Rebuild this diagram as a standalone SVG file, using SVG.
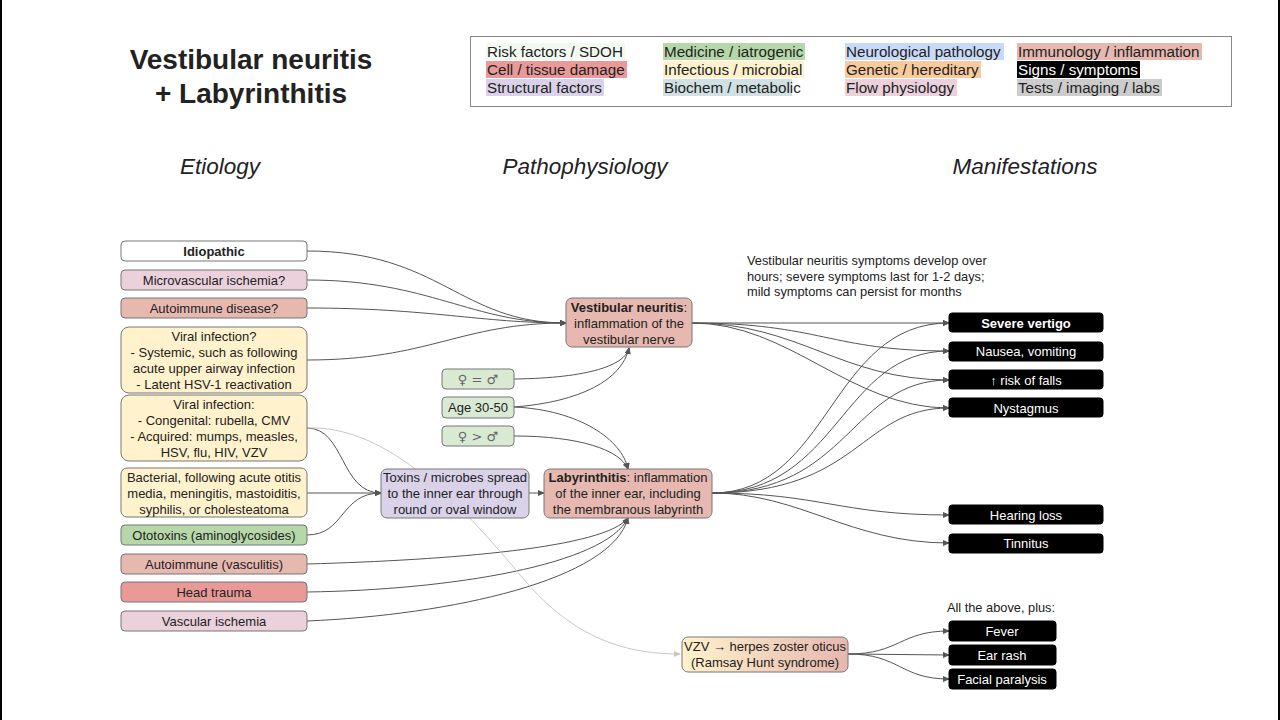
<svg xmlns="http://www.w3.org/2000/svg" width="1280" height="720" viewBox="0 0 1280 720">
<defs>
<marker id="arr" markerUnits="userSpaceOnUse" markerWidth="7" markerHeight="6" refX="6" refY="3" orient="auto"><path d="M0,0 L7,3 L0,6 z" fill="#555"/></marker>
<marker id="arrg" markerUnits="userSpaceOnUse" markerWidth="7" markerHeight="6" refX="6" refY="3" orient="auto"><path d="M0,0 L7,3 L0,6 z" fill="#c8c8c8"/></marker>
<linearGradient id="vzvg" x1="0" y1="0" x2="1" y2="0"><stop offset="0" stop-color="#fff2cc"/><stop offset="1" stop-color="#e6b8af"/></linearGradient>
</defs>
<style>
text{font-family:"Liberation Sans",Arial,sans-serif;fill:#222}
.t{font-size:13px;text-anchor:middle;dominant-baseline:central}
.lg{font-size:15.2px;dominant-baseline:central}
.h{font-size:22.5px;font-style:italic;text-anchor:middle}
.n{stroke:#777;stroke-width:1}
.s{fill:#000;stroke:#000}
.st{font-size:13px;text-anchor:middle;dominant-baseline:central;fill:#fff}
.c{fill:none;stroke:#555;stroke-width:1;marker-end:url(#arr)}
.sym{font-family:"DejaVu Sans",sans-serif;fill:#666}
.nt{font-size:12.8px}
</style>
<rect x="0" y="0" width="1280" height="720" fill="#fff"/>
<rect x="0" y="0" width="2" height="720" fill="#000"/>
<rect x="1278" y="0" width="2" height="720" fill="#000"/>

<g id="title">
<text x="251" y="69" font-size="28" font-weight="bold" text-anchor="middle" fill="#000">Vestibular neuritis</text>
<text x="251" y="103" font-size="28" font-weight="bold" text-anchor="middle" fill="#000">+ Labyrinthitis</text>
</g>

<g id="legend">
<rect x="470.5" y="36.5" width="761" height="70" fill="#fff" stroke="#888"/>
<rect x="486" y="43" width="139" height="17" fill="#f3f8f0"/>
<rect x="486" y="61" width="141" height="17" fill="#ea9999"/>
<rect x="486" y="79" width="118" height="17" fill="#d9d2e9"/>
<rect x="663" y="43" width="142" height="17" fill="#b6d7a8"/>
<rect x="663" y="61" width="141" height="17" fill="#fff2cc"/>
<rect x="663" y="79" width="129" height="17" fill="#d0e0e3"/>
<rect x="845" y="43" width="159" height="17" fill="#c9daf8"/>
<rect x="845" y="61" width="136" height="17" fill="#f9cb9c"/>
<rect x="845" y="79" width="112" height="17" fill="#ead1dc"/>
<rect x="1017" y="43" width="185" height="17" fill="#e6b8af"/>
<rect x="1017" y="61" width="123" height="17" fill="#000"/>
<rect x="1017" y="79" width="145" height="17" fill="#cccccc"/>
<text class="lg" x="487" y="51">Risk factors / SDOH</text>
<text class="lg" x="487" y="69">Cell / tissue damage</text>
<text class="lg" x="487" y="87">Structural factors</text>
<text class="lg" x="664" y="51">Medicine / iatrogenic</text>
<text class="lg" x="664" y="69">Infectious / microbial</text>
<text class="lg" x="664" y="87">Biochem / metabolic</text>
<text class="lg" x="846" y="51">Neurological pathology</text>
<text class="lg" x="846" y="69">Genetic / hereditary</text>
<text class="lg" x="846" y="87">Flow physiology</text>
<text class="lg" x="1018" y="51">Immunology / inflammation</text>
<text class="lg" x="1018" y="69" style="fill:#fff">Signs / symptoms</text>
<text class="lg" x="1018" y="87">Tests / imaging / labs</text>
</g>

<g id="headings">
<text class="h" x="220" y="174">Etiology</text>
<text class="h" x="585" y="174">Pathophysiology</text>
<text class="h" x="1025" y="174">Manifestations</text>
</g>

<g id="connectors">
<path class="c" d="M307,251 C440,251 460,323 566,323"/>
<path class="c" d="M307,280 C430,280 470,323 566,323"/>
<path class="c" d="M307,308 C430,308 480,323 566,323"/>
<path class="c" d="M307,360 C430,360 460,323 566,323"/>
<path class="c" d="M514,379 C590,378 625,365 629,348"/>
<path class="c" d="M514,407 C580,402 622,380 629,348"/>
<path class="c" d="M514,407 C580,410 622,440 628,469"/>
<path class="c" d="M514,436 C580,436 620,450 628,469"/>
<path class="c" d="M307,428 C345,428 340,493 381,493"/>
<path class="c" d="M307,493 L381,493"/>
<path class="c" d="M307,535 C345,535 340,493 381,493"/>
<path class="c" d="M529,493 L544,493"/>
<path class="c" d="M307,564 C450,560 605,548 628,518"/>
<path class="c" d="M307,592 C450,590 605,565 628,518"/>
<path class="c" d="M307,621 C450,615 612,580 628,518"/>
<path d="M307,428 C380,425 450,490 520,575 C570,635 620,654 680,654" fill="none" stroke="#c8c8c8" stroke-width="1" marker-end="url(#arrg)"/>
<path class="c" d="M692,323 L949,323"/>
<path class="c" d="M692,323 C820,323 830,351 949,351"/>
<path class="c" d="M692,323 C800,323 840,380 949,380"/>
<path class="c" d="M692,323 C790,323 850,408 949,408"/>
<path class="c" d="M712,493 C830,493 830,323 949,323"/>
<path class="c" d="M712,493 C840,493 840,351 949,351"/>
<path class="c" d="M712,493 C850,493 850,380 949,380"/>
<path class="c" d="M712,493 C860,493 860,408 949,408"/>
<path class="c" d="M712,493 C820,493 840,515 949,515"/>
<path class="c" d="M712,493 C800,493 850,543 949,543"/>
<path class="c" d="M848,654 C900,654 900,631 949,631"/>
<path class="c" d="M848,654 L949,655"/>
<path class="c" d="M848,654 C900,654 900,679 949,679"/>
</g>

<g id="idiopathic"><rect class="n" x="121" y="241" width="186" height="20" rx="4" fill="#fff"/><text class="t" x="214" y="251" font-weight="bold">Idiopathic</text></g>
<g id="microvascular"><rect class="n" x="121" y="270" width="186" height="20" rx="4" fill="#ead1dc"/><text class="t" x="214" y="280">Microvascular ischemia?</text></g>
<g id="autoimmune-disease"><rect class="n" x="121" y="298" width="186" height="20" rx="4" fill="#e6b8af"/><text class="t" x="214" y="308">Autoimmune disease?</text></g>
<g id="viral-q"><rect class="n" x="121" y="327" width="186" height="66" rx="8" fill="#fff2cc"/>
<text class="t" x="214" y="336">Viral infection?</text><text class="t" x="214" y="352">- Systemic, such as following</text><text class="t" x="214" y="368">acute upper airway infection</text><text class="t" x="214" y="384">- Latent HSV-1 reactivation</text></g>
<g id="viral"><rect class="n" x="121" y="395" width="186" height="66" rx="8" fill="#fff2cc"/>
<text class="t" x="214" y="404">Viral infection:</text><text class="t" x="214" y="420">- Congenital: rubella, CMV</text><text class="t" x="214" y="436">- Acquired: mumps, measles,</text><text class="t" x="214" y="452">HSV, flu, HIV, VZV</text></g>
<g id="bacterial"><rect class="n" x="121" y="468" width="186" height="49" rx="6" fill="#fff2cc"/>
<text class="t" x="214" y="477">Bacterial, following acute otitis</text><text class="t" x="214" y="493">media, meningitis, mastoiditis,</text><text class="t" x="214" y="509">syphilis, or cholesteatoma</text></g>
<g id="ototoxins"><rect class="n" x="121" y="525" width="186" height="20" rx="4" fill="#b6d7a8"/><text class="t" x="214" y="535">Ototoxins (aminoglycosides)</text></g>
<g id="autoimmune-vasc"><rect class="n" x="121" y="554" width="186" height="20" rx="4" fill="#e6b8af"/><text class="t" x="214" y="564">Autoimmune (vasculitis)</text></g>
<g id="head-trauma"><rect class="n" x="121" y="582" width="186" height="20" rx="4" fill="#ea9999"/><text class="t" x="214" y="592">Head trauma</text></g>
<g id="vascular-ischemia"><rect class="n" x="121" y="611" width="186" height="20" rx="4" fill="#ead1dc"/><text class="t" x="214" y="621">Vascular ischemia</text></g>

<g id="sex-eq"><rect class="n" x="442" y="369" width="72" height="20" rx="4" fill="#d9ead3"/><text class="t sym" x="478" y="379">♀ = ♂</text></g>
<g id="age"><rect class="n" x="442" y="397" width="72" height="21" rx="4" fill="#d9ead3"/><text class="t" x="478" y="407.5">Age 30-50</text></g>
<g id="sex-gt"><rect class="n" x="442" y="426" width="72" height="20" rx="4" fill="#d9ead3"/><text class="t sym" x="478" y="436">♀ &gt; ♂</text></g>

<g id="vestibular-neuritis"><rect class="n" x="566" y="298" width="126" height="49" rx="6" fill="#e6b8af"/>
<text class="t" x="629" y="307"><tspan font-weight="bold">Vestibular neuritis</tspan>:</text><text class="t" x="629" y="323">inflammation of the</text><text class="t" x="629" y="339">vestibular nerve</text></g>
<g id="toxins"><rect class="n" x="381" y="469" width="148" height="49" rx="6" fill="#d9d2e9"/>
<text class="t" x="455" y="477">Toxins / microbes spread</text><text class="t" x="455" y="493">to the inner ear through</text><text class="t" x="455" y="509">round or oval window</text></g>
<g id="labyrinthitis"><rect class="n" x="544" y="469" width="168" height="49" rx="6" fill="#e6b8af"/>
<text class="t" x="628" y="477"><tspan font-weight="bold">Labyrinthitis</tspan>: inflammation</text><text class="t" x="628" y="493">of the inner ear, including</text><text class="t" x="628" y="509">the membranous labyrinth</text></g>
<g id="vzv"><rect class="n" x="682" y="637" width="166" height="35" rx="6" fill="url(#vzvg)"/>
<text class="t" x="765" y="646">VZV → herpes zoster oticus</text><text class="t" x="765" y="662">(Ramsay Hunt syndrome)</text></g>

<g id="note">
<text class="nt" x="747" y="265">Vestibular neuritis symptoms develop over</text>
<text class="nt" x="747" y="281">hours; severe symptoms last for 1-2 days;</text>
<text class="nt" x="747" y="296">mild symptoms can persist for months</text>
</g>
<g id="severe-vertigo"><rect class="s" x="949" y="313" width="154" height="19" rx="3"/><text class="st" x="1026" y="323" font-weight="bold">Severe vertigo</text></g>
<g id="nausea"><rect class="s" x="949" y="342" width="154" height="19" rx="3"/><text class="st" x="1026" y="351">Nausea, vomiting</text></g>
<g id="falls"><rect class="s" x="949" y="370" width="154" height="19" rx="3"/><text class="st" x="1026" y="380">↑ risk of falls</text></g>
<g id="nystagmus"><rect class="s" x="949" y="398" width="154" height="19" rx="3"/><text class="st" x="1026" y="408">Nystagmus</text></g>
<g id="hearing-loss"><rect class="s" x="949" y="505" width="154" height="19" rx="3"/><text class="st" x="1026" y="515">Hearing loss</text></g>
<g id="tinnitus"><rect class="s" x="949" y="534" width="154" height="19" rx="3"/><text class="st" x="1026" y="543">Tinnitus</text></g>
<g id="plus-note"><text class="nt" x="1001" y="612" text-anchor="middle">All the above, plus:</text></g>
<g id="fever"><rect class="s" x="949" y="621" width="107" height="20" rx="3"/><text class="st" x="1002" y="631">Fever</text></g>
<g id="ear-rash"><rect class="s" x="949" y="645" width="107" height="20" rx="3"/><text class="st" x="1002" y="655">Ear rash</text></g>
<g id="facial-paralysis"><rect class="s" x="949" y="669" width="107" height="20" rx="3"/><text class="st" x="1002" y="679">Facial paralysis</text></g>
</svg>
